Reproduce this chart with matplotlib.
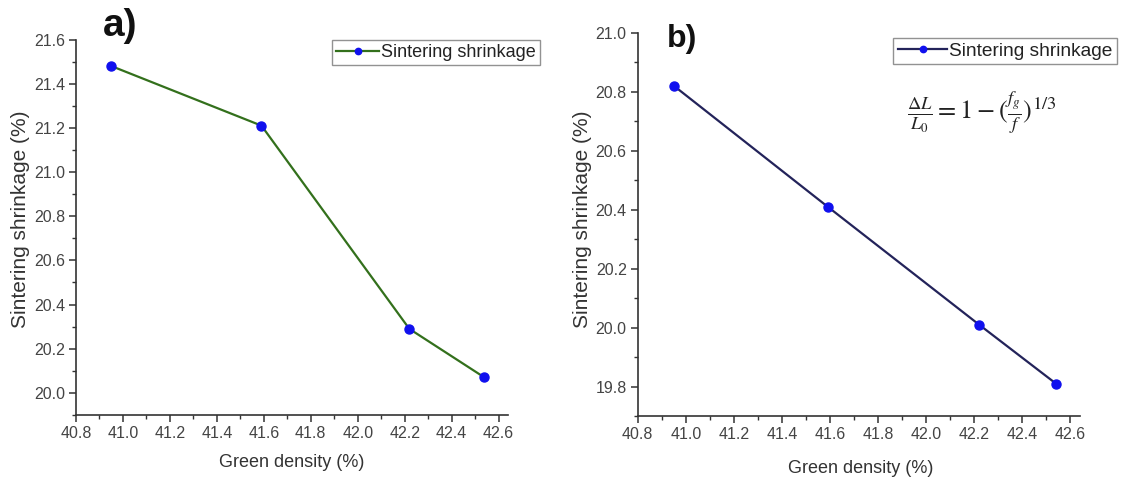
import matplotlib
matplotlib.use("Agg")
import matplotlib.pyplot as plt
from matplotlib.ticker import MultipleLocator

plt.rcParams["font.family"] = ["Liberation Sans", "DejaVu Sans"]
plt.rcParams["mathtext.fontset"] = "stix"

# Green density (%) for the four compacts
green_density = [40.95, 41.59, 42.22, 42.54]
# Measured sintering shrinkage (%)
shrinkage_measured = [21.48, 21.21, 20.29, 20.07]
# Shrinkage computed from the density relation (%)
shrinkage_calculated = [20.82, 20.41, 20.01, 19.81]

series_label = "Sintering shrinkage"
x_label = "Green density (%)"
y_label = "Sintering shrinkage (%)"
x_ticks = [40.8, 41.0, 41.2, 41.4, 41.6, 41.8, 42.0, 42.2, 42.4, 42.6]

fig = plt.figure(figsize=(11.21, 4.8), dpi=100)
ax_a = fig.add_axes([0.0678, 0.1354, 0.3853, 0.7823])
ax_b = fig.add_axes([0.5689, 0.1333, 0.3945, 0.7986])


def style_axes(ax, ylim, yticks, ylab_xy, xlab_xy):
    ax.set_xlim(40.8, 42.64)
    ax.set_ylim(*ylim)
    ax.set_xticks(x_ticks)
    ax.set_xticklabels([f"{v:.1f}" for v in x_ticks])
    ax.xaxis.set_minor_locator(MultipleLocator(0.1))
    ax.set_yticks(yticks)
    ax.set_yticklabels([f"{v:.1f}" for v in yticks])
    ax.yaxis.set_minor_locator(MultipleLocator(0.1))
    for side in ("top", "right"):
        ax.spines[side].set_visible(False)
    for side in ("left", "bottom"):
        ax.spines[side].set_color("#333333")
        ax.spines[side].set_linewidth(1.2)
    ax.tick_params(which="major", direction="out", length=5, width=1.1,
                   colors="#333333", labelsize=11.5, labelcolor="#444444", pad=3)
    ax.tick_params(which="minor", direction="out", length=3, width=1.0,
                   colors="#333333")
    ax.set_xlabel(x_label, fontsize=13, color="#333333")
    ax.set_ylabel(y_label, fontsize=15, color="#333333")
    ax.yaxis.set_label_coords(*ylab_xy)
    ax.xaxis.set_label_coords(*xlab_xy)


style_axes(ax_a, (19.9, 21.6),
           [20.0, 20.2, 20.4, 20.6, 20.8, 21.0, 21.2, 21.4, 21.6],
           (-0.106, 0.52), (0.499, -0.105))
style_axes(ax_b, (19.7, 21.0),
           [19.8, 20.0, 20.2, 20.4, 20.6, 20.8, 21.0],
           (-0.103, 0.514), (0.505, -0.114))

ax_a.plot(green_density, shrinkage_measured, color="#33701c", lw=1.6,
          marker="o", ms=6.5, mfc="#1010ee", mec="#1010ee", label=series_label)
ax_b.plot(green_density, shrinkage_calculated, color="#23235a", lw=1.6,
          marker="o", ms=6.5, mfc="#1010ee", mec="#1010ee", label=series_label)

legend_specs = ((ax_a, (0.4817, 0.9167), 13, 2.4),
                (ax_b, (0.9964, 0.921), 13.8, 2.6))
for ax, anchor, fsize, hlen in legend_specs:
    leg = ax.legend(loc="upper right", bbox_to_anchor=anchor,
                    bbox_transform=fig.transFigure, fontsize=fsize,
                    frameon=True, fancybox=False, handlelength=hlen,
                    handletextpad=0.1, borderpad=0.22, borderaxespad=0.0,
                    markerscale=0.7)
    leg.get_frame().set_edgecolor("#777777")
    leg.get_frame().set_linewidth(1.0)
    for t in leg.get_texts():
        t.set_color("#222222")

fig.text(0.0915, 0.984, "a)", fontsize=28, fontweight="bold", color="#111111",
         va="top", ha="left")
fig.text(0.5945, 0.951, "b)", fontsize=23, fontweight="bold", color="#111111",
         va="top", ha="left")

fig.text(0.876, 0.765, r"$\frac{\Delta L}{L_0} = 1-(\frac{f_g}{f})^{1/3}$",
         fontsize=19, ha="center", va="center", color="#222222")

fig.savefig("out.png", dpi=100, facecolor="white")
